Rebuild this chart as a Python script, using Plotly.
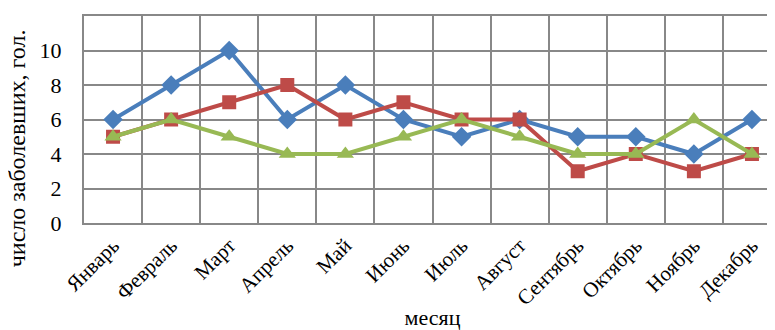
import plotly.graph_objects as go

months = ["Январь", "Февраль", "Март", "Апрель", "Май", "Июнь", "Июль",
          "Август", "Сентябрь", "Октябрь", "Ноябрь", "Декабрь"]
series_blue = [6, 8, 10, 6, 8, 6, 5, 6, 5, 5, 4, 6]
series_red = [5, 6, 7, 8, 6, 7, 6, 6, 3, 4, 3, 4]
series_green = [5, 6, 5, 4, 4, 5, 6, 5, 4, 4, 6, 4]
y_ticks = [0, 2, 4, 6, 8, 10, 12]

FONT = "Liberation Serif"
GRID = "#888888"
idx = list(range(len(months)))

fig = go.Figure()
fig.add_trace(go.Scatter(x=idx, y=series_blue, mode="lines+markers",
                         line=dict(color="#4A7EBB", width=4),
                         marker=dict(symbol="diamond", size=15, color="#4A7EBB")))
fig.add_trace(go.Scatter(x=idx, y=series_red, mode="lines+markers",
                         line=dict(color="#BE4B48", width=4),
                         marker=dict(symbol="square", size=14, color="#BE4B48")))
fig.add_trace(go.Scatter(x=idx, y=series_green, mode="lines+markers",
                         line=dict(color="#98B954", width=4),
                         marker=dict(symbol="triangle-up", size=15, color="#98B954")))

fig.update_layout(
    template="none",
    width=775, height=330,
    margin=dict(l=76, r=2, t=8, b=115),
    paper_bgcolor="white", plot_bgcolor="white",
    showlegend=False,
    font=dict(family=FONT, color="black", size=20),
    annotations=[dict(text="число заболевших, гол.", textangle=-90,
                      xref="paper", yref="paper", x=-0.095, y=0.36,
                      xanchor="center", yanchor="middle", showarrow=False,
                      font=dict(size=24, family=FONT, color="black"))],
)
fig.update_xaxes(
    range=[-0.5, len(months) - 0.5],
    tickvals=idx, ticktext=months,
    showgrid=False, zeroline=False,
    minor=dict(tick0=0.5, dtick=1, showgrid=True, gridcolor=GRID, gridwidth=2),
    showline=True, linecolor=GRID, linewidth=2, mirror=True,
    ticks="", tickangle=-45, tickfont=dict(size=21, family=FONT, color="black"),
    title=dict(text="месяц", font=dict(size=22, family=FONT, color="black"), standoff=0),
)
fig.update_yaxes(
    range=[0, 12], tickvals=y_ticks,
    showgrid=True, gridcolor=GRID, gridwidth=2,
    showline=True, linecolor=GRID, linewidth=2, mirror=True,
    zeroline=False,
    ticks="outside", ticklen=16, tickcolor="rgba(0,0,0,0)",
    tickfont=dict(size=22, family=FONT, color="black"),
)

fig.write_html("out.html")
